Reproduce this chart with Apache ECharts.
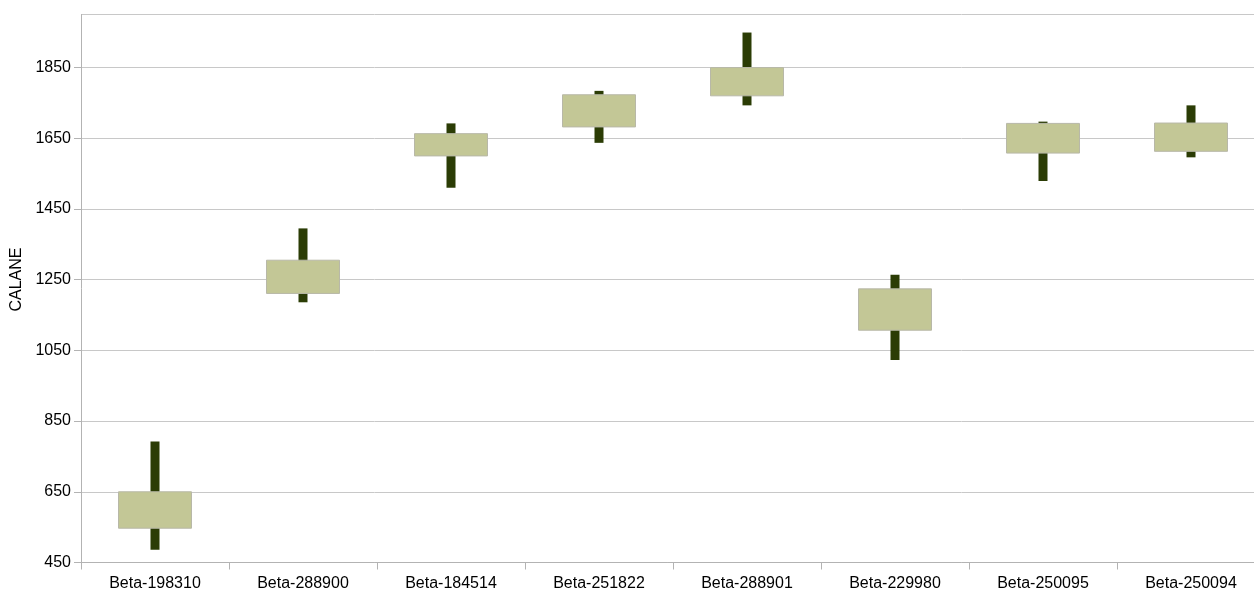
<!DOCTYPE html>
<html>
<head>
<meta charset="utf-8">
<script src="https://cdn.jsdelivr.net/npm/echarts@6/dist/echarts.min.js"></script>
<style>
html,body{margin:0;padding:0;background:#fff;}
#chart{width:1254px;height:591px;}
</style>
</head>
<body>
<div id="chart"></div>
<script>
var categories = ['Beta-198310','Beta-288900','Beta-184514','Beta-251822','Beta-288901','Beta-229980','Beta-250095','Beta-250094'];
var boxTop    = [650, 1305, 1663, 1773, 1850, 1224, 1692, 1693];
var boxBottom = [547, 1211, 1600, 1682, 1770, 1107, 1608, 1613];
var lowVals   = [486, 1186, 1510, 1637, 1743, 1023, 1529, 1596];
var highVals  = [792, 1395, 1692, 1784, 1949, 1264, 1697, 1743];
var yTicks = [450, 650, 850, 1050, 1250, 1450, 1650, 1850];
var yName = 'CALANE';

var wickData = categories.map(function(c, i){ return [lowVals[i], highVals[i], lowVals[i], highVals[i]]; });
var bodyData = categories.map(function(c, i){ return [boxBottom[i], boxTop[i], boxBottom[i], boxTop[i]]; });

var font = 'Liberation Sans';
var chart = echarts.init(document.getElementById('chart'));
chart.setOption({
  animation: false,
  grid: { left: 81, top: 14.5, bottom: 28.5, right: -11, containLabel: false, outerBoundsMode: 'none' },
  xAxis: {
    type: 'category',
    data: categories,
    boundaryGap: true,
    axisLine: { show: true, lineStyle: { color: '#b3b3b3', width: 1 } },
    axisTick: { show: true, length: 7, alignWithLabel: false, lineStyle: { color: '#b3b3b3' } },
    axisLabel: { color: '#000', fontFamily: font, fontSize: 16, margin: 13 },
    splitLine: { show: false }
  },
  yAxis: {
    type: 'value',
    min: 450,
    max: 2000,
    interval: 200,
    name: yName,
    nameLocation: 'middle',
    nameGap: 54,
    nameRotate: 90,
    nameTextStyle: { color: '#000', fontFamily: font, fontSize: 16, padding: [0, 0, 0, 18] },
    axisLine: { show: true, lineStyle: { color: '#b3b3b3', width: 1 } },
    axisTick: { show: true, length: 7, lineStyle: { color: '#b3b3b3' } },
    axisLabel: {
      color: '#000', fontFamily: font, fontSize: 16, margin: 10, showMaxLabel: false,
      formatter: function(v){ return yTicks.indexOf(v) >= 0 ? String(v) : ''; }
    },
    splitLine: { show: true, lineStyle: { color: '#c8c8c8', width: 1 } }
  },
  series: [
    {
      type: 'candlestick',
      data: wickData,
      barWidth: 9,
      silent: true,
      itemStyle: { color: '#2b3c05', color0: '#2b3c05', borderColor: '#2b3c05', borderColor0: '#2b3c05', borderWidth: 0 },
      emphasis: { disabled: true }
    },
    {
      type: 'candlestick',
      data: bodyData,
      barWidth: '50%',
      silent: true,
      itemStyle: { color: '#c3c796', color0: '#c3c796', borderColor: '#b8b8a8', borderColor0: '#b8b8a8', borderWidth: 1 },
      emphasis: { disabled: true }
    }
  ]
});
</script>
</body>
</html>
